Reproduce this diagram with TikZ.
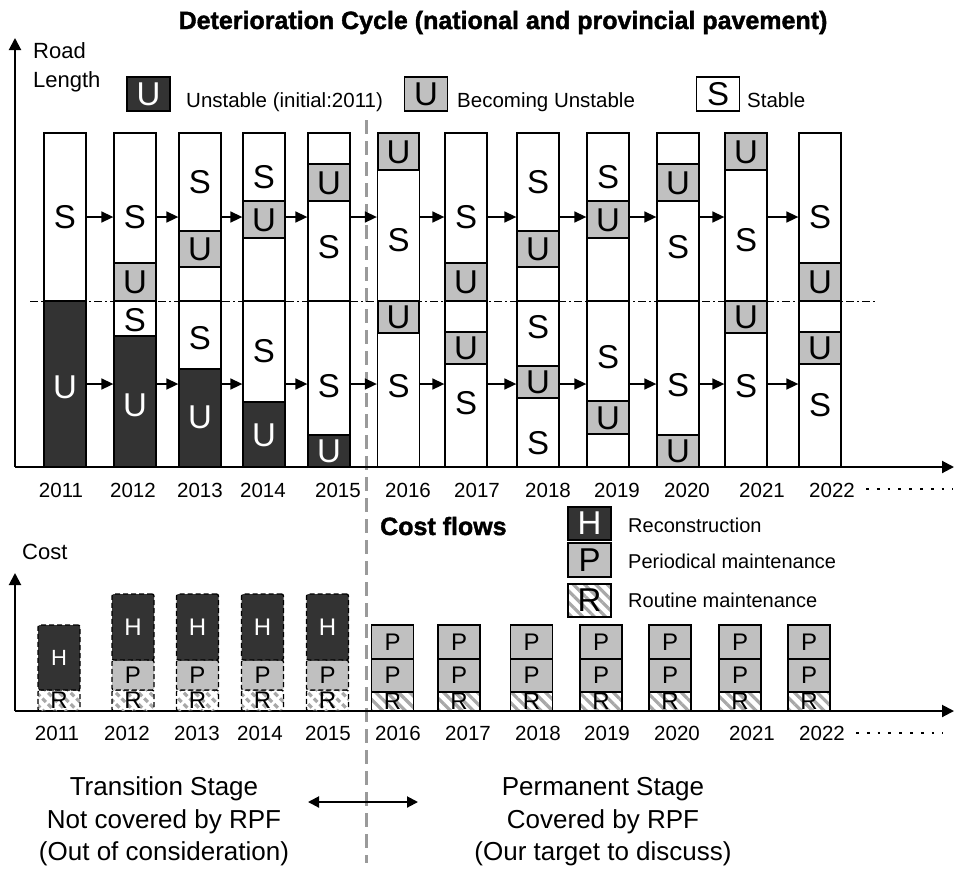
\documentclass[tikz,border=0pt]{standalone}
\usepackage{fontspec}
\setmainfont{Liberation Sans}
\newfontfamily\headfont[BoldFeatures={FakeBold=1.6}]{Liberation Sans}
\usetikzlibrary{arrows.meta,patterns.meta}

\definecolor{darkfill}{HTML}{333333}
\definecolor{grayfill}{HTML}{C0C0C0}
\definecolor{hatchgray}{HTML}{A8A8A8}
\definecolor{divider}{HTML}{9A9A9A}

\newcommand{\fsz}[1]{\fontsize{#1}{#1}\selectfont}

\tikzset{
  half/.style={draw, line width=1.3pt, minimum width=42pt, inner sep=0pt},
  darkseg/.style={draw, fill=darkfill, line width=1.3pt},
  grayseg/.style={draw, fill=grayfill, line width=1.3pt},
  letter/.style={font=\fsz{33}, inner sep=0pt},
  letterw/.style={letter, text=white},
  flow/.style={-{Triangle[length=12pt,width=11pt]}, line width=1.6pt},
  axis/.style={-{Triangle[length=12pt,width=12pt]}, line width=2pt},
  year/.style={font=\fsz{20.5}, anchor=base, inner sep=0pt},
  legtext/.style={font=\fsz{20.5}, anchor=base west, inner sep=0pt},
  legbox/.style={draw, line width=1.3pt, minimum width=43pt, minimum height=34pt, inner sep=0pt, font=\fsz{33}},
  costbase/.style={minimum width=42pt, inner sep=0pt, line width=1.3pt, font=\fsz{24}},
  hdash/.style={costbase, draw, dash pattern=on 5pt off 3pt, rounded corners=2pt, fill=darkfill, text=white},
  pdash/.style={costbase, draw, dash pattern=on 5pt off 3pt, rounded corners=2pt, fill=grayfill},
  rdash/.style={costbase, draw, dash pattern=on 5pt off 3pt, rounded corners=2pt,
    pattern={Lines[angle=-45,distance=8pt,line width=3.2pt]}, pattern color=hatchgray},
  psolid/.style={costbase, draw, fill=grayfill},
  rsolid/.style={costbase, draw, pattern={Lines[angle=-45,distance=8pt,line width=3.2pt]}, pattern color=hatchgray},
  stage/.style={font=\fsz{26}, anchor=base, inner sep=0pt},
  headline/.style={font=\headfont\fsz{25}\bfseries, inner sep=0pt},
}

\begin{document}
\begin{tikzpicture}[x=1pt,y=-1pt]
\useasboundingbox (0,0) rectangle (955,871);

% title
\node[headline, anchor=base] (title) at (503,29) {Deterioration Cycle (national and provincial pavement)};

% stage divider
\coordinate (divtop) at (366,120);
\coordinate (divbot) at (366,863);
\draw[divider, line width=3pt, dash pattern=on 14pt off 7pt] (divtop) -- (divbot);

% ---------- deterioration cycle ----------
\coordinate (o1) at (15,467);
\coordinate (ytop1) at (15,38);
\coordinate (xend1) at (954,467);
\draw[axis] (o1) -- (ytop1);
\draw[axis] (o1) -- (xend1);
\node[font=\fsz{22}, anchor=base west, inner sep=0pt] (road) at (33,58) {Road};
\node[font=\fsz{22}, anchor=base west, inner sep=0pt] (length) at (33,87) {Length};

% legend
\node[legbox, fill=darkfill, text=white] (legU1) at (148.5,94) {U};
\node[legtext] (legU1t) at (186,107) {Unstable (initial:2011)};
\node[legbox, fill=grayfill] (legU2) at (426,94) {U};
\node[legtext] (legU2t) at (457,107) {Becoming Unstable};
\node[legbox] (legS) at (718,94) {S};
\node[legtext] (legSt) at (747,107) {Stable};

% half-way line
\coordinate (midL) at (30,301);
\coordinate (midR) at (877,301);
\draw[line width=0.9pt, dash pattern=on 8pt off 3pt on 2pt off 3pt] (midL) -- (midR);

% coloured segments, upper half
\draw[grayseg] (114,263) rectangle (156,301);
\draw[grayseg] (179,231) rectangle (221,267);
\draw[grayseg] (243,201) rectangle (285,238);
\draw[grayseg] (308,164) rectangle (350,201);
\draw[grayseg] (378,133) rectangle (419,170);
\draw[grayseg] (445,263) rectangle (487,301);
\draw[grayseg] (517,231) rectangle (559,267);
\draw[grayseg] (587,201) rectangle (629,238);
\draw[grayseg] (657,164) rectangle (699,201);
\draw[grayseg] (725,133) rectangle (767,170);
\draw[grayseg] (799,263) rectangle (841,301);
% coloured segments, lower half
\draw[darkseg] (44,301) rectangle (86,467);
\draw[darkseg] (114,336) rectangle (156,467);
\draw[darkseg] (179,369) rectangle (221,467);
\draw[darkseg] (243,402) rectangle (285,467);
\draw[darkseg] (308,435) rectangle (350,467);
\draw[grayseg] (378,301) rectangle (419,333);
\draw[grayseg] (445,332) rectangle (487,364);
\draw[grayseg] (517,366) rectangle (559,398);
\draw[grayseg] (587,401) rectangle (629,434);
\draw[grayseg] (657,435) rectangle (699,467);
\draw[grayseg] (725,301) rectangle (767,333);
\draw[grayseg] (799,332) rectangle (841,364);

% bar outlines (upper and lower halves)
\foreach \yr/\cx in {2011/65,2012/135,2013/200,2014/264,2015/329,2016/398.5,
                     2017/466,2018/538,2019/608,2020/678,2021/746,2022/820}{
  \node[half, minimum height=168pt] (u\yr) at (\cx,217) {};
  \node[half, minimum height=166pt] (l\yr) at (\cx,384) {};
}

% transitions between years
\foreach \a/\b in {2011/2012,2012/2013,2013/2014,2014/2015,2015/2016,2016/2017,
                   2017/2018,2018/2019,2019/2020,2020/2021,2021/2022}{
  \draw[flow] (u\a) -- (u\b);
  \draw[flow] (l\a) -- (l\b);
}

% state letters, upper half
\node[letter] (a11) at (65,217) {S};
\node[letter] (a12) at (135,217) {S};
\node[letter] (b12) at (135,282) {U};
\node[letter] (a13) at (200,182) {S};
\node[letter] (b13) at (200,249) {U};
\node[letter] (a14) at (264,177) {S};
\node[letter] (b14) at (264,220) {U};
\node[letter] (a15) at (329,183) {U};
\node[letter] (b15) at (329,247) {S};
\node[letter] (a16) at (398.5,152) {U};
\node[letter] (b16) at (398.5,240) {S};
\node[letter] (a17) at (466,217) {S};
\node[letter] (b17) at (466,282) {U};
\node[letter] (a18) at (538,182) {S};
\node[letter] (b18) at (538,249) {U};
\node[letter] (a19) at (608,177) {S};
\node[letter] (b19) at (608,220) {U};
\node[letter] (a20) at (678,183) {U};
\node[letter] (b20) at (678,247) {S};
\node[letter] (a21) at (746,152) {U};
\node[letter] (b21) at (746,240) {S};
\node[letter] (a22) at (820,217) {S};
\node[letter] (b22) at (820,282) {U};
% state letters, lower half
\node[letterw] (c11) at (65,387) {U};
\node[letter] (c12) at (135,320) {S};
\node[letterw] (d12) at (135,405) {U};
\node[letter] (c13) at (200,338) {S};
\node[letterw] (d13) at (200,417) {U};
\node[letter] (c14) at (264,351) {S};
\node[letterw] (d14) at (264,435) {U};
\node[letter] (c15) at (329,386) {S};
\node[letterw] (d15) at (329,451) {U};
\node[letter] (c16) at (398.5,317) {U};
\node[letter] (d16) at (398.5,386) {S};
\node[letter] (c17) at (466,348) {U};
\node[letter] (d17) at (466,403) {S};
\node[letter] (c18) at (538,327) {S};
\node[letter] (d18) at (538,382) {U};
\node[letter] (e18) at (538,443) {S};
\node[letter] (c19) at (608,357) {S};
\node[letter] (d19) at (608,418) {U};
\node[letter] (c20) at (678,385) {S};
\node[letter] (d20) at (678,451) {U};
\node[letter] (c21) at (746,317) {U};
\node[letter] (d21) at (746,386) {S};
\node[letter] (c22) at (820,348) {U};
\node[letter] (d22) at (820,405) {S};

% year labels
\foreach \yr/\x in {2011/61,2012/133,2013/200,2014/263,2015/338,2016/408,
                    2017/477,2018/548,2019/617,2020/687,2021/762,2022/832}{
  \node[year] (ya\yr) at (\x,497) {\yr};
}
\coordinate (dotsA1) at (866,489);
\coordinate (dotsA2) at (953,489);
\draw[line width=2.8pt, dash pattern=on 2.8pt off 8pt] (dotsA1) -- (dotsA2);

% ---------- cost flows ----------
\node[headline, anchor=base west] (costtitle) at (380,535) {Cost flows};
\node[font=\fsz{22}, anchor=base west, inner sep=0pt] (costlbl) at (22,559) {Cost};
\coordinate (o2) at (15,711);
\coordinate (ytop2) at (15,573);
\coordinate (xend2) at (954,711);
\draw[axis] (o2) -- (ytop2);
\draw[axis] (o2) -- (xend2);

% legend
\node[legbox, fill=darkfill, text=white, minimum height=33pt] (legH) at (589.5,523.5) {H};
\node[legtext, font=\fsz{20}] (legHt) at (628,532) {Reconstruction};
\node[legbox, fill=grayfill] (legP) at (589.5,560) {P};
\node[legtext, font=\fsz{20}] (legPt) at (628,568) {Periodical maintenance};
\node[legbox, minimum height=33pt, pattern={Lines[angle=-45,distance=8pt,line width=3.2pt]}, pattern color=hatchgray] (legR) at (589.5,600.5) {R};
\node[legtext, font=\fsz{20}] (legRt) at (628,607) {Routine maintenance};

% transition years
\node[rdash, minimum height=21pt] (r11) at (59,700.5) {R};
\node[hdash, minimum height=65pt, font=\fsz{22}] (h11) at (59,657.5) {H};
\foreach \yr/\cx in {2012/133,2013/197.5,2014/262.5,2015/327.5}{
  \node[rdash, minimum height=21pt] (r\yr) at (\cx,700.5) {R};
  \node[pdash, minimum height=30pt] (p\yr) at (\cx,675) {P};
  \node[hdash, minimum height=66pt] (h\yr) at (\cx,627) {H};
}
% permanent years
\foreach \yr/\cx in {2016/392.5,2017/459,2018/531.5,2019/601,2020/670,2021/740,2022/809}{
  \node[rsolid, minimum height=19pt] (r\yr) at (\cx,701.5) {R};
  \node[psolid, minimum height=33pt] (p\yr) at (\cx,675.5) {P};
  \node[psolid, minimum height=34pt] (q\yr) at (\cx,642) {P};
}

% year labels
\foreach \yr/\x in {2011/57,2012/127,2013/197,2014/260,2015/328,2016/398,
                    2017/468,2018/538,2019/607,2020/677,2021/752,2022/822}{
  \node[year] (yb\yr) at (\x,740) {\yr};
}
\coordinate (dotsB1) at (856,733);
\coordinate (dotsB2) at (943,733);
\draw[line width=2.8pt, dash pattern=on 2.8pt off 8pt] (dotsB1) -- (dotsB2);

% ---------- stages ----------
\node[stage] (tr1) at (164,795) {Transition Stage};
\node[stage] (tr2) at (164,828) {Not covered by RPF};
\node[stage] (tr3) at (164,860) {(Out of consideration)};
\node[stage] (pm1) at (603,795) {Permanent Stage};
\node[stage] (pm2) at (603,828) {Covered by RPF};
\node[stage] (pm3) at (603,860) {(Our target to discuss)};
\coordinate (stL) at (308,802);
\coordinate (stR) at (418,802);
\draw[{Triangle[length=11pt,width=11pt]}-{Triangle[length=11pt,width=11pt]}, line width=2pt] (stL) -- (stR);

\end{tikzpicture}
\end{document}
